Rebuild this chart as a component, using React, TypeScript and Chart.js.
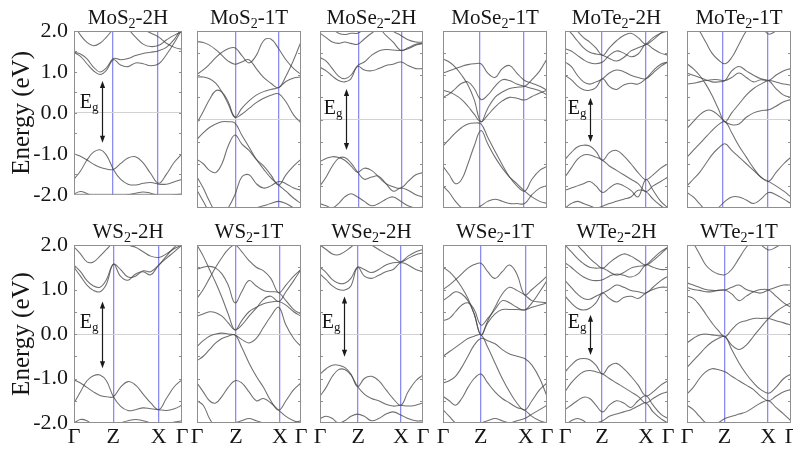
import React, { useEffect, useRef } from "react";
import { Chart, registerables } from "chart.js";

Chart.register(...registerables);

// ---------- data ----------
const K_PATH = [0, 0.06, 0.12, 0.18, 0.24, 0.3, 0.365, 0.43, 0.5, 0.57, 0.64, 0.71, 0.785, 0.855, 0.93, 1];
const K_LABELS = ["Γ", "Z", "X", "Γ"];
const ENERGY_TICKS = [-2, -1, 0, 1, 2];
const ENERGY_MINOR = [-1.5, -1, -0.5, 0, 0.5, 1, 1.5];

const TITLES = [
  ["MoS", "2", "-2H"], ["MoS", "2", "-1T"], ["MoSe", "2", "-2H"], ["MoSe", "2", "-1T"],
  ["MoTe", "2", "-2H"], ["MoTe", "2", "-1T"], ["WS", "2", "-2H"], ["WS", "2", "-1T"],
  ["WSe", "2", "-2H"], ["WSe", "2", "-1T"], ["WTe", "2", "-2H"], ["WTe", "2", "-1T"],
];
const Z_POS = [0.36, 0.375, 0.38, 0.356, 0.36, 0.346, 0.364, 0.375, 0.37, 0.363, 0.36, 0.36];
const X_POS = [0.77, 0.788, 0.796, 0.779, 0.786, 0.779, 0.785, 0.798, 0.787, 0.794, 0.786, 0.78];

const GAP_K = [0.256, null, 0.25, null, 0.243, null, 0.26, null, 0.233, null, 0.243, null];
const GAP_TOP = [0.78, null, 0.69, null, 0.49, null, 0.73, null, 0.84, null, 0.43, null];
const GAP_BOTTOM = [-0.73, null, -0.69, null, -0.51, null, -0.77, null, -0.51, null, -0.47, null];
const GAP_LABEL_E = 0.27;

const MOS2_2H = [
  [1.48, 1.38, 1.2, 1.03, 0.94, 1.04, 1.3, 1.17, 1.13, 1.22, 1.2, 1.15, 1.2, 1.42, 1.72, 2.05],
  [1.48, 1.44, 1.32, 1.12, 1.0, 1.1, 1.33, 1.3, 1.33, 1.4, 1.45, 1.48, 1.52, 1.6, 1.8, 2.1],
  [2.15, 1.9, 1.72, 1.64, 1.7, 1.85, 2.05, 2.2, 2.05, 1.85, 1.68, 1.62, 1.65, 1.78, 1.9, 1.98],
  [2.6, 2.4, 2.2, 2.05, 2.0, 2.1, 2.3, 2.4, 2.3, 2.2, 2.05, 1.95, 1.85, 1.7, 1.6, 1.55],
  [-1.0, -1.06, -1.15, -1.25, -1.33, -1.37, -1.38, -1.24, -1.1, -1.07, -1.22, -1.48, -1.72, -1.5, -1.2, -1.0],
  [-1.62, -1.42, -1.15, -0.96, -0.9, -1.03, -1.38, -1.62, -1.74, -1.76, -1.72, -1.7, -1.74, -1.74, -1.68, -1.62],
  [-1.98, -1.92, -1.97, -2.05, -2.1, -2.1, -2.08, -2.05, -2.0, -1.96, -1.93, -1.96, -2.02, -2.05, -2.0, -1.98],
];
const MOS2_1T = [
  [1.02, 1.12, 1.25, 1.4, 1.52, 1.6, 1.62, 1.45, 1.28, 1.45, 1.78, 1.82, 1.6, 1.35, 1.15, 1.02],
  [1.76, 1.74, 1.68, 1.58, 1.45, 1.32, 1.25, 1.3, 1.35, 1.15, 0.95, 0.82, 0.72, 0.98, 1.35, 1.76],
  [0.96, 0.96, 0.92, 0.82, 0.62, 0.35, 0.05, 0.25, 0.42, 0.55, 0.63, 0.68, 0.72, 0.86, 0.94, 0.96],
  [-0.08, 0.18, 0.45, 0.65, 0.62, 0.4, 0.05, 0.12, 0.25, 0.38, 0.48, 0.55, 0.58, 0.4, 0.1, -0.08],
  [-0.45, -0.3, -0.18, -0.1, -0.05, -0.05, -0.08, -0.35, -0.62, -0.9, -1.12, -1.32, -1.48, -1.62, -1.78, -1.9],
  [-0.9, -1.0, -1.15, -1.2, -1.0, -0.6, -0.35, -0.55, -0.7, -0.9, -1.05, -1.25, -1.48, -1.25, -1.05, -0.9],
  [-1.3, -1.55, -1.85, -2.1, -2.2, -2.0, -1.7, -1.3, -1.25, -1.45, -1.55, -1.5, -1.4, -1.45, -1.55, -1.6],
  [-1.6, -1.85, -2.1, -2.3, -2.4, -2.4, -2.3, -2.2, -2.1, -2.0, -1.95, -1.9, -1.85, -1.9, -2.0, -2.1],
];
const MOSE2_2H = [
  [1.18, 1.1, 0.98, 0.88, 0.85, 0.92, 1.2, 1.12, 1.1, 1.15, 1.22, 1.25, 1.3, 1.22, 1.15, 1.15],
  [1.4, 1.32, 1.15, 0.98, 0.92, 1.0, 1.22, 1.3, 1.45, 1.55, 1.58, 1.57, 1.56, 1.6, 1.68, 1.72],
  [1.95, 1.85, 1.75, 1.72, 1.75, 1.72, 1.7, 1.82, 1.95, 2.05, 1.9, 1.75, 1.56, 1.62, 1.7, 1.72],
  [2.4, 2.2, 2.05, 1.95, 1.92, 1.95, 1.95, 2.05, 2.2, 2.3, 2.2, 2.0, 1.9, 1.8, 1.75, 1.75],
  [-0.95, -0.88, -0.84, -0.86, -0.92, -1.05, -1.19, -1.1, -1.15, -1.3, -1.45, -1.52, -1.55, -1.4, -1.25, -1.2],
  [-1.5, -1.3, -1.05, -0.88, -0.86, -0.98, -1.19, -1.35, -1.3, -1.28, -1.45, -1.62, -1.55, -1.6, -1.7, -1.75],
  [-1.9, -1.95, -2.0, -1.9, -1.75, -1.68, -1.75, -1.85, -1.95, -1.9, -1.8, -1.75, -1.85, -1.95, -2.0, -1.98],
];
const MOSE2_1T = [
  [1.05, 1.1, 1.15, 1.2, 1.24, 1.26, 1.26, 1.05, 0.95, 1.15, 1.22, 1.05, 0.88, 0.82, 0.75, 0.66],
  [1.37, 1.3, 1.18, 1.0, 0.78, 0.45, -0.05, 0.25, 0.5, 0.62, 0.7, 0.73, 0.75, 0.9, 1.1, 1.37],
  [0.66, 0.62, 0.55, 0.45, 0.3, 0.12, -0.05, 0.1, 0.28, 0.42, 0.5, 0.48, 0.44, 0.52, 0.6, 0.66],
  [0.5, 0.58, 0.7, 0.82, 0.85, 0.7, 0.45, 0.55, 0.75, 0.9, 0.88, 0.8, 0.75, 0.7, 0.65, 0.55],
  [-0.6, -0.45, -0.3, -0.18, -0.1, -0.08, -0.1, -0.4, -0.72, -1.02, -1.3, -1.5, -1.62, -1.35, -1.15, -1.06],
  [-1.06, -1.25, -1.45, -1.35, -1.0, -0.6, -0.25, -0.55, -0.85, -1.1, -1.3, -1.45, -1.62, -1.75, -1.85, -1.9],
  [-1.5, -1.65, -1.85, -2.0, -2.1, -2.05, -1.95, -1.85, -1.8, -1.85, -1.9, -1.9, -1.9, -1.7, -1.55, -1.5],
];
const MOTE2_2H = [
  [1.0, 0.9, 0.76, 0.67, 0.66, 0.72, 0.92, 0.75, 0.68, 0.78, 0.82, 0.8, 0.92, 1.1, 1.25, 1.3],
  [1.3, 1.2, 1.0, 0.85, 0.8, 0.85, 0.92, 1.05, 1.12, 1.08, 1.0, 0.95, 0.92, 1.05, 1.2, 1.3],
  [1.6, 1.55, 1.45, 1.35, 1.28, 1.26, 1.3, 1.45, 1.55, 1.5, 1.42, 1.48, 1.7, 1.6, 1.5, 1.45],
  [2.1, 1.95, 1.78, 1.62, 1.52, 1.48, 1.45, 1.38, 1.32, 1.4, 1.55, 1.62, 1.7, 1.85, 1.95, 2.0],
  [2.4, 2.2, 2.0, 1.85, 1.75, 1.62, 1.45, 1.62, 1.78, 1.9, 1.95, 1.85, 1.7, 1.8, 1.95, 2.1],
  [-0.9, -0.75, -0.62, -0.58, -0.6, -0.72, -0.92, -0.75, -0.7, -0.82, -1.0, -1.2, -1.36, -1.25, -1.1, -1.0],
  [-1.3, -1.1, -0.9, -0.8, -0.8, -0.85, -0.92, -1.05, -1.15, -1.25, -1.35, -1.45, -1.63, -1.5, -1.4, -1.3],
  [-1.6, -1.55, -1.5, -1.45, -1.4, -1.5, -1.65, -1.55, -1.45, -1.5, -1.6, -1.75, -1.36, -1.6, -1.85, -2.0],
  [-2.0, -1.9, -1.85, -1.9, -1.95, -2.0, -1.96, -1.9, -1.85, -1.8, -1.75, -1.6, -1.63, -1.8, -1.95, -2.05],
];
const MOTE2_1T = [
  [2.4, 2.2, 2.0, 1.75, 1.5, 1.35, 1.26, 1.4, 1.7, 2.0, 2.2, 2.1, 1.93, 2.0, 2.1, 2.2],
  [1.26, 1.15, 1.0, 0.8, 0.55, 0.25, -0.05, 0.15, 0.35, 0.55, 0.7, 0.8, 0.88, 0.85, 0.8, 0.78],
  [0.8, 0.82, 0.85, 0.88, 0.9, 0.9, 0.88, 0.95, 1.05, 0.95, 0.85, 0.9, 0.88, 1.0, 1.1, 1.15],
  [1.05, 1.0, 0.95, 0.9, 0.85, 0.85, 0.88, 1.1, 1.2, 1.1, 1.0, 0.92, 0.88, 0.7, 0.55, 0.5],
  [-0.2, -0.05, 0.1, 0.2, 0.2, 0.1, -0.05, -0.12, -0.1, 0.05, 0.15, 0.2, 0.22, 0.3, 0.4, 0.45],
  [-0.85, -0.7, -0.55, -0.4, -0.25, -0.12, -0.05, -0.3, -0.6, -0.85, -1.1, -1.3, -1.4, -1.5, -1.62, -1.75],
  [-1.5, -1.35, -1.2, -1.0, -0.8, -0.65, -0.55, -0.7, -0.85, -1.0, -1.15, -1.3, -1.4, -1.2, -1.0, -0.85],
  [-1.65, -1.75, -1.9, -2.05, -2.1, -2.0, -1.85, -1.75, -1.75, -1.82, -1.9, -1.8, -1.65, -1.7, -1.8, -1.9],
];
const WS2_2H = [
  [1.5, 1.3, 1.1, 0.98, 0.95, 1.12, 1.57, 1.3, 1.21, 1.35, 1.4, 1.33, 1.55, 1.7, 1.85, 2.0],
  [1.55, 1.4, 1.2, 1.08, 1.05, 1.22, 1.57, 1.45, 1.28, 1.3, 1.42, 1.4, 1.55, 1.75, 1.95, 2.1],
  [1.96, 1.8, 1.62, 1.62, 1.75, 1.9, 2.05, 2.1, 2.0, 1.95, 1.85, 1.75, 1.72, 1.8, 1.92, 2.0],
  [-1.03, -1.1, -1.2, -1.3, -1.38, -1.41, -1.41, -1.2, -1.07, -1.15, -1.35, -1.55, -1.7, -1.45, -1.18, -1.03],
  [-1.55, -1.3, -1.05, -0.94, -0.92, -1.05, -1.41, -1.62, -1.72, -1.7, -1.66, -1.68, -1.7, -1.72, -1.68, -1.6],
  [-2.0, -1.92, -1.95, -2.05, -2.1, -2.08, -2.05, -2.0, -1.95, -1.92, -1.95, -2.0, -2.05, -2.02, -1.98, -1.95],
];
const WS2_1T = [
  [0.8, 1.0, 1.25, 1.5, 1.72, 1.9, 2.0, 1.85, 1.65, 1.5, 1.42, 1.25, 0.93, 1.1, 1.3, 1.45],
  [2.0, 1.75, 1.45, 1.15, 0.82, 0.45, 0.09, 0.3, 0.5, 0.6, 0.68, 0.72, 0.73, 0.65, 0.5, 0.4],
  [1.45, 1.5, 1.52, 1.48, 1.35, 1.1, 0.7, 0.95, 1.2, 1.08, 0.98, 0.95, 0.93, 0.75, 0.55, 0.45],
  [0.4, 0.45, 0.5, 0.48, 0.4, 0.25, 0.09, 0.2, 0.4, 0.58, 0.78, 0.85, 0.73, 0.95, 1.2, 1.45],
  [-0.28, -0.15, -0.05, 0.0, 0.02, 0.0, -0.02, -0.12, -0.2, -0.1, 0.15, 0.4, 0.6, 0.2, -0.1, -0.28],
  [-0.6, -0.5, -0.35, -0.2, -0.1, -0.05, -0.02, -0.3, -0.65, -0.95, -1.2, -1.5, -1.71, -1.5, -1.25, -1.1],
  [-1.1, -1.3, -1.5, -1.55, -1.4, -1.2, -1.05, -1.1, -1.3, -1.5, -1.45, -1.55, -1.71, -1.85, -1.95, -2.0],
  [-1.5, -1.6, -1.9, -2.1, -2.2, -2.1, -2.0, -1.95, -1.9, -1.95, -2.0, -2.05, -2.1, -2.05, -2.0, -1.95],
];
const WSE2_2H = [
  [1.35, 1.22, 1.08, 1.0, 0.99, 1.08, 1.5, 1.3, 1.25, 1.32, 1.4, 1.45, 1.6, 1.55, 1.45, 1.4],
  [1.5, 1.38, 1.22, 1.14, 1.14, 1.25, 1.5, 1.45, 1.38, 1.45, 1.55, 1.6, 1.62, 1.75, 1.85, 1.9],
  [2.0, 1.9, 1.8, 1.78, 1.85, 1.95, 2.05, 2.1, 2.0, 1.9, 1.8, 1.72, 1.62, 1.7, 1.78, 1.82],
  [-0.9, -0.78, -0.7, -0.7, -0.75, -0.9, -1.18, -1.0, -0.95, -1.05, -1.25, -1.45, -1.6, -1.3, -1.05, -0.92],
  [-1.4, -1.2, -0.95, -0.8, -0.8, -0.92, -1.18, -1.35, -1.45, -1.5, -1.58, -1.62, -1.6, -1.62, -1.6, -1.55],
  [-1.9, -1.85, -1.9, -2.0, -1.95, -1.85, -1.8, -1.85, -1.95, -1.9, -1.8, -1.75, -1.82, -1.9, -1.95, -1.95],
];
const WSE2_1T = [
  [1.0, 1.1, 1.22, 1.35, 1.48, 1.56, 1.59, 1.4, 1.25, 1.4, 1.55, 1.35, 0.88, 1.0, 1.15, 1.3],
  [1.5, 1.4, 1.25, 1.05, 0.8, 0.45, -0.02, 0.25, 0.45, 0.55, 0.55, 0.55, 0.54, 0.6, 0.65, 0.7],
  [0.75, 0.85, 0.95, 0.9, 0.75, 0.45, -0.02, 0.3, 0.6, 0.9, 1.05, 0.98, 0.88, 0.75, 0.72, 0.7],
  [0.3, 0.35, 0.5, 0.65, 0.7, 0.55, 0.2, 0.35, 0.55, 0.75, 0.7, 0.6, 0.54, 0.7, 0.95, 1.2],
  [-0.5, -0.4, -0.3, -0.2, -0.1, -0.05, -0.02, -0.3, -0.65, -1.0, -1.3, -1.55, -1.71, -1.5, -1.25, -1.1],
  [-1.1, -1.05, -0.95, -0.75, -0.5, -0.25, -0.1, -0.15, -0.22, -0.35, -0.45, -0.5, -0.55, -0.7, -1.0, -1.4],
  [-1.4, -1.5, -1.6, -1.45, -1.2, -1.0, -0.9, -1.1, -1.3, -1.45, -1.55, -1.65, -1.71, -1.85, -1.95, -2.0],
  [-1.7, -1.85, -2.0, -2.1, -2.15, -2.1, -2.0, -1.95, -1.9, -1.95, -2.0, -1.95, -1.9, -1.8, -1.7, -1.6],
];
const WTE2_2H = [
  [0.85, 0.7, 0.58, 0.54, 0.58, 0.7, 0.92, 0.8, 0.72, 0.82, 0.85, 0.8, 0.92, 1.0, 1.05, 1.05],
  [1.2, 1.05, 0.9, 0.8, 0.78, 0.85, 0.92, 1.0, 1.1, 1.05, 0.98, 0.95, 0.92, 1.05, 1.2, 1.3],
  [1.6, 1.5, 1.38, 1.28, 1.22, 1.2, 1.22, 1.3, 1.35, 1.32, 1.28, 1.35, 1.55, 1.5, 1.45, 1.45],
  [2.0, 1.85, 1.7, 1.58, 1.5, 1.48, 1.48, 1.4, 1.32, 1.38, 1.48, 1.52, 1.55, 1.7, 1.85, 1.95],
  [2.4, 2.2, 2.0, 1.85, 1.7, 1.58, 1.48, 1.6, 1.72, 1.8, 1.75, 1.65, 1.55, 1.65, 1.8, 1.95],
  [-0.85, -0.7, -0.58, -0.55, -0.58, -0.7, -0.9, -0.72, -0.66, -0.78, -0.95, -1.15, -1.39, -1.3, -1.15, -1.05],
  [-1.3, -1.1, -0.95, -0.85, -0.82, -0.85, -0.9, -1.0, -1.1, -1.2, -1.3, -1.4, -1.55, -1.45, -1.35, -1.3],
  [-1.7, -1.6, -1.5, -1.42, -1.45, -1.6, -1.75, -1.6, -1.5, -1.55, -1.65, -1.5, -1.39, -1.6, -1.8, -1.9],
  [-2.05, -1.95, -1.9, -1.95, -2.05, -2.0, -1.95, -1.85, -1.8, -1.75, -1.7, -1.62, -1.55, -1.75, -1.9, -2.0],
];
const WTE2_1T = [
  [2.3, 2.05, 1.8, 1.55, 1.42, 1.35, 1.33, 1.45, 1.7, 1.95, 2.1, 2.0, 1.89, 1.95, 2.05, 2.1],
  [1.05, 1.0, 0.98, 0.95, 0.95, 0.98, 0.99, 1.05, 1.1, 1.0, 0.95, 0.92, 0.99, 1.05, 1.1, 1.1],
  [1.15, 1.1, 1.05, 1.0, 0.98, 0.98, 0.99, 0.9, 0.75, 0.85, 0.95, 1.0, 0.99, 0.85, 0.7, 0.6],
  [0.85, 0.8, 0.65, 0.45, 0.25, 0.08, -0.06, 0.1, 0.25, 0.3, 0.35, 0.35, 0.35, 0.3, 0.25, 0.2],
  [-0.2, -0.1, -0.02, 0.0, -0.02, -0.04, -0.06, -0.25, -0.35, -0.25, -0.05, 0.15, 0.35, 0.5, 0.62, 0.7],
  [-0.75, -0.6, -0.45, -0.3, -0.18, -0.1, -0.06, -0.35, -0.65, -0.9, -1.1, -1.25, -1.33, -1.2, -1.0, -0.9],
  [-1.35, -1.2, -1.0, -0.85, -0.78, -0.8, -0.85, -0.95, -1.05, -1.15, -1.25, -1.4, -1.5, -1.4, -1.3, -1.25],
  [-1.6, -1.7, -1.85, -2.0, -2.1, -2.0, -1.9, -1.85, -1.8, -1.75, -1.65, -1.55, -1.5, -1.65, -1.8, -1.95],
];

const BANDS = [
  MOS2_2H, MOS2_1T, MOSE2_2H, MOSE2_1T, MOTE2_2H, MOTE2_1T,
  WS2_2H, WS2_1T, WSE2_2H, WSE2_1T, WTE2_2H, WTE2_1T,
];

// ---------- layout & style ----------
const BOX_LEFT = [74, 197, 320, 443, 565, 687];
const BOX_RIGHT = [182, 301, 423, 547, 668, 791];
const ROW_TOP = [31, 245];
const ROW_BOTTOM = [208, 423];
const SIDE_PAD = 14;
const TITLE_PAD = 31;
const FONT = '"Liberation Serif", "Times New Roman", serif';
const BAND_COLOR = "rgba(70,70,70,0.78)";
const BLUE = "#8c8cf0";
const ZERO_COLOR = "#d2d2d2";
const FRAME = "#8f8f8f";
const TEXT = "#151515";

function Panel({ index }: { index: number }) {
  const ref = useRef<HTMLCanvasElement | null>(null);
  const row = Math.floor(index / 6);
  const col = index % 6;
  const left = col === 0 ? 0 : BOX_LEFT[col] - SIDE_PAD;
  const top = ROW_TOP[row] - TITLE_PAD;
  const xAxisH = row === 1 ? 28 : 0;
  const padB = row === 1 ? 0 : 6;
  const width = BOX_RIGHT[col] + SIDE_PAD - left;
  const height = ROW_BOTTOM[row] + xAxisH + padB - top;

  useEffect(() => {
    const canvas = ref.current;
    if (!canvas) return;
    const zk = Z_POS[index];
    const xk = X_POS[index];

    const deco = {
      id: "panelDeco",
      afterDatasetsDraw(chart: any) {
        const { ctx, chartArea: a, scales } = chart;
        const xs = scales.x;
        const ys = scales.y;
        ctx.save();
        // frame + minor ticks
        ctx.strokeStyle = FRAME;
        ctx.lineWidth = 1;
        ctx.strokeRect(a.left + 0.5, a.top + 0.5, a.right - a.left - 1, a.bottom - a.top - 1);
        ctx.beginPath();
        for (const e of ENERGY_MINOR) {
          const py = Math.round(ys.getPixelForValue(e)) + 0.5;
          ctx.moveTo(a.left, py);
          ctx.lineTo(a.left + 3, py);
          ctx.moveTo(a.right, py);
          ctx.lineTo(a.right - 3, py);
        }
        ctx.stroke();

        // band-gap arrow
        const gk = GAP_K[index];
        const gt = GAP_TOP[index];
        const gb = GAP_BOTTOM[index];
        if (gk !== null && gt !== null && gb !== null) {
          const gx = Math.round(xs.getPixelForValue(gk)) + 0.5;
          const y1 = ys.getPixelForValue(gt);
          const y2 = ys.getPixelForValue(gb);
          ctx.strokeStyle = "#1a1a1a";
          ctx.fillStyle = "#1a1a1a";
          ctx.lineWidth = 1.2;
          ctx.beginPath();
          ctx.moveTo(gx, y1 + 4);
          ctx.lineTo(gx, y2 - 4);
          ctx.stroke();
          ctx.beginPath();
          ctx.moveTo(gx, y1);
          ctx.lineTo(gx - 2.6, y1 + 7);
          ctx.lineTo(gx + 2.6, y1 + 7);
          ctx.closePath();
          ctx.fill();
          ctx.beginPath();
          ctx.moveTo(gx, y2);
          ctx.lineTo(gx - 2.6, y2 - 7);
          ctx.lineTo(gx + 2.6, y2 - 7);
          ctx.closePath();
          ctx.fill();
          const ly = ys.getPixelForValue(GAP_LABEL_E);
          ctx.fillStyle = TEXT;
          ctx.textBaseline = "alphabetic";
          ctx.textAlign = "left";
          ctx.font = `13px ${FONT}`;
          const gW = ctx.measureText("g").width;
          ctx.font = `20px ${FONT}`;
          const eW = ctx.measureText("E").width;
          const right = gx - 4;
          ctx.fillText("E", right - gW - eW, ly + 6);
          ctx.font = `13px ${FONT}`;
          ctx.fillText("g", right - gW, ly + 9);
        }

        // title
        const [t1, ts, t2] = TITLES[index];
        ctx.fillStyle = TEXT;
        ctx.textBaseline = "alphabetic";
        ctx.textAlign = "left";
        ctx.font = `21px ${FONT}`;
        const w1 = ctx.measureText(t1).width;
        const w2 = ctx.measureText(t2).width;
        ctx.font = `14px ${FONT}`;
        const ws = ctx.measureText(ts).width;
        const x0 = (a.left + a.right) / 2 - (w1 + ws + w2) / 2;
        const base = a.top - 7;
        ctx.font = `21px ${FONT}`;
        ctx.fillText(t1, x0, base);
        ctx.fillText(t2, x0 + w1 + ws, base);
        ctx.font = `14px ${FONT}`;
        ctx.fillText(ts, x0 + w1, base + 4);
        ctx.restore();
      },
    };

    const chart = new Chart(canvas, {
      type: "line",
      data: {
        datasets: BANDS[index].map((band) => ({
          data: band.map((e, i) => ({ x: K_PATH[i], y: e })),
          borderColor: BAND_COLOR,
          borderWidth: 1.05,
          pointRadius: 0,
          tension: 0.4,
          fill: false,
        })),
      },
      options: {
        responsive: false,
        animation: false,
        events: [],
        layout: {
          padding: { left: col === 0 ? 0 : SIDE_PAD, right: SIDE_PAD, top: TITLE_PAD, bottom: padB },
        },
        elements: { line: { capBezierPoints: false } },
        plugins: {
          legend: { display: false },
          tooltip: { enabled: false },
          title: { display: false },
        },
        scales: {
          x: {
            type: "linear",
            min: 0,
            max: 1,
            position: "bottom",
            afterBuildTicks: (s: any) => {
              s.ticks = [0, zk, xk, 1].map((v) => ({ value: v }));
            },
            afterFit: (s: any) => {
              s.height = xAxisH;
            },
            ticks: {
              display: row === 1,
              autoSkip: false,
              maxRotation: 0,
              minRotation: 0,
              padding: 1,
              color: TEXT,
              font: { family: FONT, size: 22 },
              callback: (_v: any, i: number) => K_LABELS[i],
            },
            grid: {
              drawTicks: false,
              lineWidth: 1.3,
              color: (c: any) => (c.index === 1 || c.index === 2 ? BLUE : "rgba(0,0,0,0)"),
            },
            border: { display: false },
          },
          y: {
            type: "linear",
            min: -2,
            max: 2,
            position: "left",
            afterBuildTicks: (s: any) => {
              s.ticks = ENERGY_TICKS.map((v) => ({ value: v }));
            },
            afterFit: (s: any) => {
              s.width = col === 0 ? BOX_LEFT[0] : 0;
            },
            ticks: {
              display: col === 0,
              padding: 6,
              color: TEXT,
              font: { family: FONT, size: 22 },
              callback: (v: any) => Number(v).toFixed(1),
            },
            title: {
              display: col === 0,
              text: "Energy (eV)",
              color: TEXT,
              font: { family: FONT, size: 25 },
              padding: { top: 7, bottom: 0 },
            },
            grid: {
              drawTicks: false,
              lineWidth: 1,
              color: (c: any) => (c.tick && c.tick.value === 0 ? ZERO_COLOR : "rgba(0,0,0,0)"),
            },
            border: { display: false },
          },
        },
      },
      plugins: [deco],
    } as any);
    return () => chart.destroy();
  }, [index]);

  return (
    <canvas
      ref={ref}
      width={width}
      height={height}
      style={{ position: "absolute", left, top, width, height }}
    />
  );
}

export default function App() {
  return (
    <div
      style={{
        position: "absolute",
        left: 0,
        top: 0,
        width: 793,
        height: 451,
        overflow: "hidden",
        background: "#ffffff",
      }}
    >
      {BANDS.map((_, i) => (
        <Panel key={i} index={i} />
      ))}
    </div>
  );
}
